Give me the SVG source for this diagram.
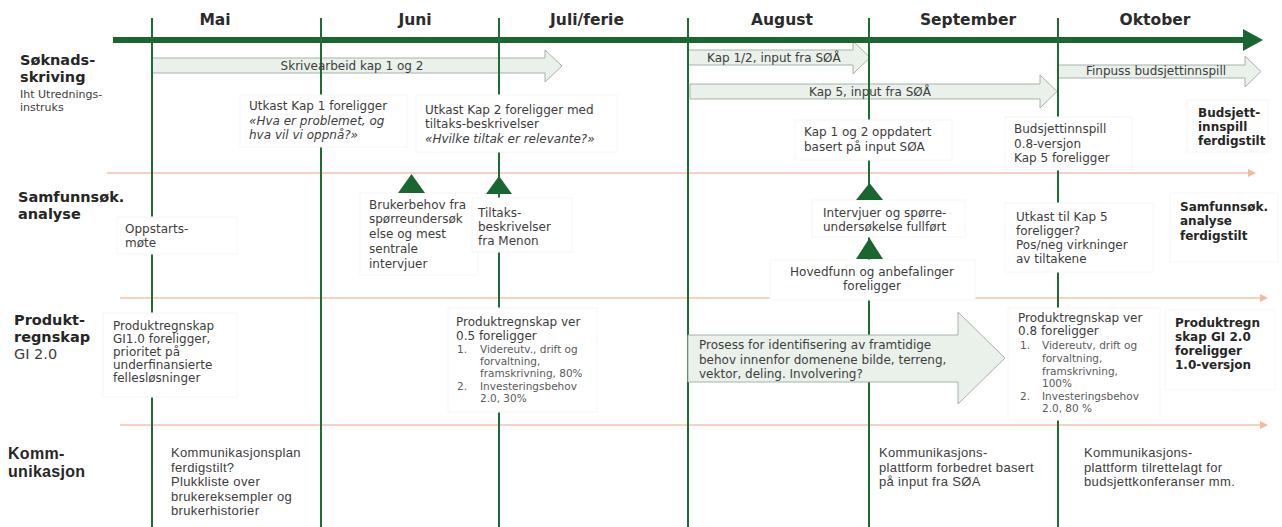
<svg xmlns="http://www.w3.org/2000/svg" width="1282" height="527" viewBox="0 0 1282 527">
<style>
text{font-family:"DejaVu Sans",Verdana,sans-serif;fill:#3d3d3d;font-size:12px}
.m{font-size:15.5px;font-weight:bold;fill:#2b2b2b;text-anchor:middle}
.lab{font-size:14.5px;font-weight:bold;fill:#262626}
.sub{font-size:11px}
.gi{font-size:14.5px}
.b{font-weight:bold;fill:#262626}
.i{font-style:italic}
.li{font-size:10.5px;fill:#5a5a5a}
.ctr{text-anchor:middle}
.os{font-family:"Liberation Sans",Arial,sans-serif;font-size:13px;letter-spacing:0.35px}
.osl{font-family:"Liberation Sans",Arial,sans-serif;font-size:16px;font-weight:bold;fill:#262626;letter-spacing:0.3px}
.box{fill:#fff;stroke:#f6f6f6;stroke-width:1}
.arr{fill:#e9f1ea;stroke:#a6b2a8;stroke-width:1}
.v{stroke:#1f6b35;stroke-width:2}
.s{stroke:#f6c2ad;stroke-width:1.6}
.tri{fill:#1a6631}
</style>
<defs>
<marker id="sa" markerWidth="8" markerHeight="8" refX="0" refY="4" orient="auto" markerUnits="userSpaceOnUse"><path d="M0,0 L8,4 L0,8 z" fill="#f6b89f"/></marker>
</defs>

<!-- month labels -->
<g id="months">
<text class="m" x="215" y="25">Mai</text>
<text class="m" x="415" y="25">Juni</text>
<text class="m" x="587" y="25">Juli/ferie</text>
<text class="m" x="782" y="25">August</text>
<text class="m" x="968" y="25">September</text>
<text class="m" x="1155" y="25">Oktober</text>
</g>

<!-- row labels -->
<g id="row-soknad">
<text class="lab" x="20" y="65">Søknads-</text>
<text class="lab" x="20" y="82">skriving</text>
<text class="sub" x="20" y="98">Iht Utrednings-</text>
<text class="sub" x="20" y="111">instruks</text>
</g>
<g id="row-samfunn">
<text class="lab" x="18" y="202">Samfunnsøk.</text>
<text class="lab" x="18" y="219">analyse</text>
</g>
<g id="row-produkt">
<text class="lab" x="14" y="325">Produkt-</text>
<text class="lab" x="14" y="342">regnskap</text>
<text class="gi" x="14" y="359">GI 2.0</text>
</g>
<g id="row-komm">
<text class="osl" x="8" y="459">Komm-</text>
<text class="osl" x="8" y="477">unikasjon</text>
</g>

<!-- block arrows (under the month lines) -->
<g id="arrow-skrivearbeid">
<polygon class="arr" points="152,58 545,58 545,50 562,66 545,82 545,73 152,73"/>
</g>
<g id="arrow-kap12">
<polygon class="arr" points="688,50 853,50 853,41 870,57.5 853,74 853,65 688,65"/>
</g>
<g id="arrow-kap5">
<polygon class="arr" points="690,84 1040,84 1040,75 1057,91.5 1040,108 1040,99 690,99"/>
</g>
<g id="arrow-finpuss">
<polygon class="arr" points="1058,65 1245,65 1245,56 1261,71.5 1245,87 1245,78 1058,78"/>
</g>

<!-- connectors -->
<g id="connectors">
<rect x="113" y="37" width="1131" height="6" fill="#1a6631"/>
<polygon points="1243,29 1263,40 1243,51" fill="#1a6631"/>
<line class="s" x1="107" y1="173" x2="1248" y2="173" marker-end="url(#sa)"/>
<line class="s" x1="120" y1="298" x2="1260" y2="298" marker-end="url(#sa)"/>
<line class="s" x1="120" y1="425" x2="1260" y2="425" marker-end="url(#sa)"/>
<line class="v" x1="152" y1="18" x2="152" y2="527"/>
<line class="v" x1="321" y1="18" x2="321" y2="527"/>
<line class="v" x1="499" y1="18" x2="499" y2="527"/>
<line class="v" x1="688" y1="18" x2="688" y2="527"/>
<line class="v" x1="869" y1="18" x2="869" y2="527"/>
<line class="v" x1="1058" y1="18" x2="1058" y2="527"/>
</g>

<!-- block arrow labels -->
<g id="arrow-labels">
<text class="ctr" x="352" y="70">Skrivearbeid kap 1 og 2</text>
<text x="707" y="62">Kap 1/2, input fra SØÅ</text>
<text class="ctr" x="870" y="96">Kap 5, input fra SØÅ</text>
<text class="ctr" x="1156" y="75">Finpuss budsjettinnspill</text>
</g>

<!-- big process arrow -->
<g id="arrow-prosess">
<polygon class="arr" points="688,335 958,335 958,312 1005,358 958,404 958,382 688,382"/>
<text x="699" y="349">Prosess for identifisering av framtidige</text>
<text x="699" y="364">behov innenfor domenene bilde, terreng,</text>
<text x="699" y="378">vektor, deling. Involvering?</text>
</g>

<!-- Søknadsskriving notes -->
<g id="note-utkast1">
<rect class="box" x="240" y="95" width="167" height="52"/>
<text x="249" y="110">Utkast Kap 1 foreligger</text>
<text class="i" x="249" y="125">«Hva er problemet, og</text>
<text class="i" x="249" y="139">hva vil vi oppnå?»</text>
</g>
<g id="note-utkast2">
<rect class="box" x="416" y="95" width="201" height="57"/>
<text x="425" y="114">Utkast Kap 2 foreligger med</text>
<text x="425" y="128">tiltaks-beskrivelser</text>
<text class="i" x="425" y="143">«Hvilke tiltak er relevante?»</text>
</g>
<g id="note-kap12-oppdatert">
<rect class="box" x="795" y="120" width="157" height="40"/>
<text x="804" y="136">Kap 1 og 2 oppdatert</text>
<text x="804" y="151">basert på input SØA</text>
</g>
<g id="note-budsjettinnspill">
<rect class="box" x="1005" y="117" width="127" height="53"/>
<text x="1014" y="133">Budsjettinnspill</text>
<text x="1014" y="148">0.8-versjon</text>
<text x="1014" y="162">Kap 5 foreligger</text>
</g>
<g id="note-budsjett-ferdig">
<rect class="box" x="1187" y="100" width="81" height="52"/>
<text class="b" x="1198" y="117">Budsjett-</text>
<text class="b" x="1198" y="131">innspill</text>
<text class="b" x="1198" y="145">ferdigstilt</text>
</g>

<!-- Samfunnsøk. analyse notes -->
<g id="note-oppstart">
<rect class="box" x="117" y="217" width="120" height="37"/>
<text x="125" y="233">Oppstarts-</text>
<text x="125" y="247">møte</text>
</g>
<g id="note-brukerbehov">
<rect class="box" x="360" y="193" width="118" height="82"/>
<polygon class="tri" points="398,193 425,193 411.5,174"/>
<text x="369" y="209">Brukerbehov fra</text>
<text x="369" y="223">spørreundersøk</text>
<text x="369" y="238">else og mest</text>
<text x="369" y="253">sentrale</text>
<text x="369" y="268">intervjuer</text>
</g>
<g id="note-tiltak">
<rect class="box" x="472" y="198" width="100" height="54"/>
<polygon class="tri" points="486,194 512,194 499,176"/>
<text x="478" y="217">Tiltaks-</text>
<text x="478" y="231">beskrivelser</text>
<text x="478" y="245">fra Menon</text>
</g>
<g id="note-intervjuer">
<rect class="box" x="812" y="200" width="153" height="37"/>
<polygon class="tri" points="856,200 883,200 869.5,183"/>
<text x="823" y="217">Intervjuer og spørre-</text>
<text x="823" y="231">undersøkelse fullført</text>
</g>
<g id="note-hovedfunn">
<rect class="box" x="770" y="260" width="205" height="40"/>
<polygon class="tri" points="856,259 883,259 869.5,238"/>
<text class="ctr" x="872" y="276">Hovedfunn og anbefalinger</text>
<text class="ctr" x="872" y="290">foreligger</text>
</g>
<g id="note-utkast5">
<rect class="box" x="1005" y="203" width="148" height="69"/>
<text x="1016" y="221">Utkast til Kap 5</text>
<text x="1016" y="235">foreligger?</text>
<text x="1016" y="249">Pos/neg virkninger</text>
<text x="1016" y="263">av tiltakene</text>
</g>
<g id="note-samfunn-ferdig">
<rect class="box" x="1170" y="193" width="108" height="69"/>
<text class="b" x="1180" y="211">Samfunnsøk.</text>
<text class="b" x="1180" y="225">analyse</text>
<text class="b" x="1180" y="240">ferdigstilt</text>
</g>

<!-- Produktregnskap notes -->
<g id="note-gi10">
<rect class="box" x="103" y="313" width="134" height="84"/>
<text x="113" y="330" font-size="11.5">Produktregnskap</text>
<text x="113" y="343" font-size="11.5">GI1.0 foreligger,</text>
<text x="113" y="356" font-size="11.5">prioritet på</text>
<text x="113" y="369" font-size="11.5">underfinansierte</text>
<text x="113" y="382" font-size="11.5">fellesløsninger</text>
</g>
<g id="note-ver05">
<rect class="box" x="448" y="308" width="149" height="104"/>
<text x="456" y="326">Produktregnskap ver</text>
<text x="456" y="340">0.5 foreligger</text>
<text class="li" x="457" y="353">1.</text>
<text class="li" x="480" y="353">Videreutv., drift og</text>
<text class="li" x="480" y="365">forvaltning,</text>
<text class="li" x="480" y="377">framskrivning, 80%</text>
<text class="li" x="457" y="390">2.</text>
<text class="li" x="480" y="390">Investeringsbehov</text>
<text class="li" x="480" y="402">2.0, 30%</text>
</g>
<g id="note-ver08">
<rect class="box" x="1008" y="308" width="152" height="112"/>
<text x="1018" y="322">Produktregnskap ver</text>
<text x="1018" y="335">0.8 foreligger</text>
<text class="li" x="1020" y="349">1.</text>
<text class="li" x="1042" y="349">Videreutv, drift og</text>
<text class="li" x="1042" y="362">forvaltning,</text>
<text class="li" x="1042" y="375">framskrivning,</text>
<text class="li" x="1042" y="387">100%</text>
<text class="li" x="1020" y="400">2.</text>
<text class="li" x="1042" y="400">Investeringsbehov</text>
<text class="li" x="1042" y="412">2.0, 80 %</text>
</g>
<g id="note-produkt-ferdig">
<rect class="box" x="1165" y="310" width="110" height="80"/>
<text class="b" x="1175" y="327">Produktregn</text>
<text class="b" x="1175" y="341">skap GI 2.0</text>
<text class="b" x="1175" y="355">foreligger</text>
<text class="b" x="1175" y="369">1.0-versjon</text>
</g>

<!-- Kommunikasjon notes -->
<g id="note-kommplan">
<text class="os" x="171" y="457">Kommunikasjonsplan</text>
<text class="os" x="171" y="471.6">ferdigstilt?</text>
<text class="os" x="171" y="486.2">Plukkliste over</text>
<text class="os" x="171" y="500.8">brukereksempler og</text>
<text class="os" x="171" y="515.4">brukerhistorier</text>
</g>
<g id="note-kommplattform1">
<text class="os" x="879" y="457">Kommunikasjons-</text>
<text class="os" x="879" y="471.6">plattform forbedret basert</text>
<text class="os" x="879" y="486.2">på input fra SØA</text>
</g>
<g id="note-kommplattform2">
<text class="os" x="1084" y="457">Kommunikasjons-</text>
<text class="os" x="1084" y="471.6">plattform tilrettelagt for</text>
<text class="os" x="1084" y="486.2">budsjettkonferanser mm.</text>
</g>
</svg>
